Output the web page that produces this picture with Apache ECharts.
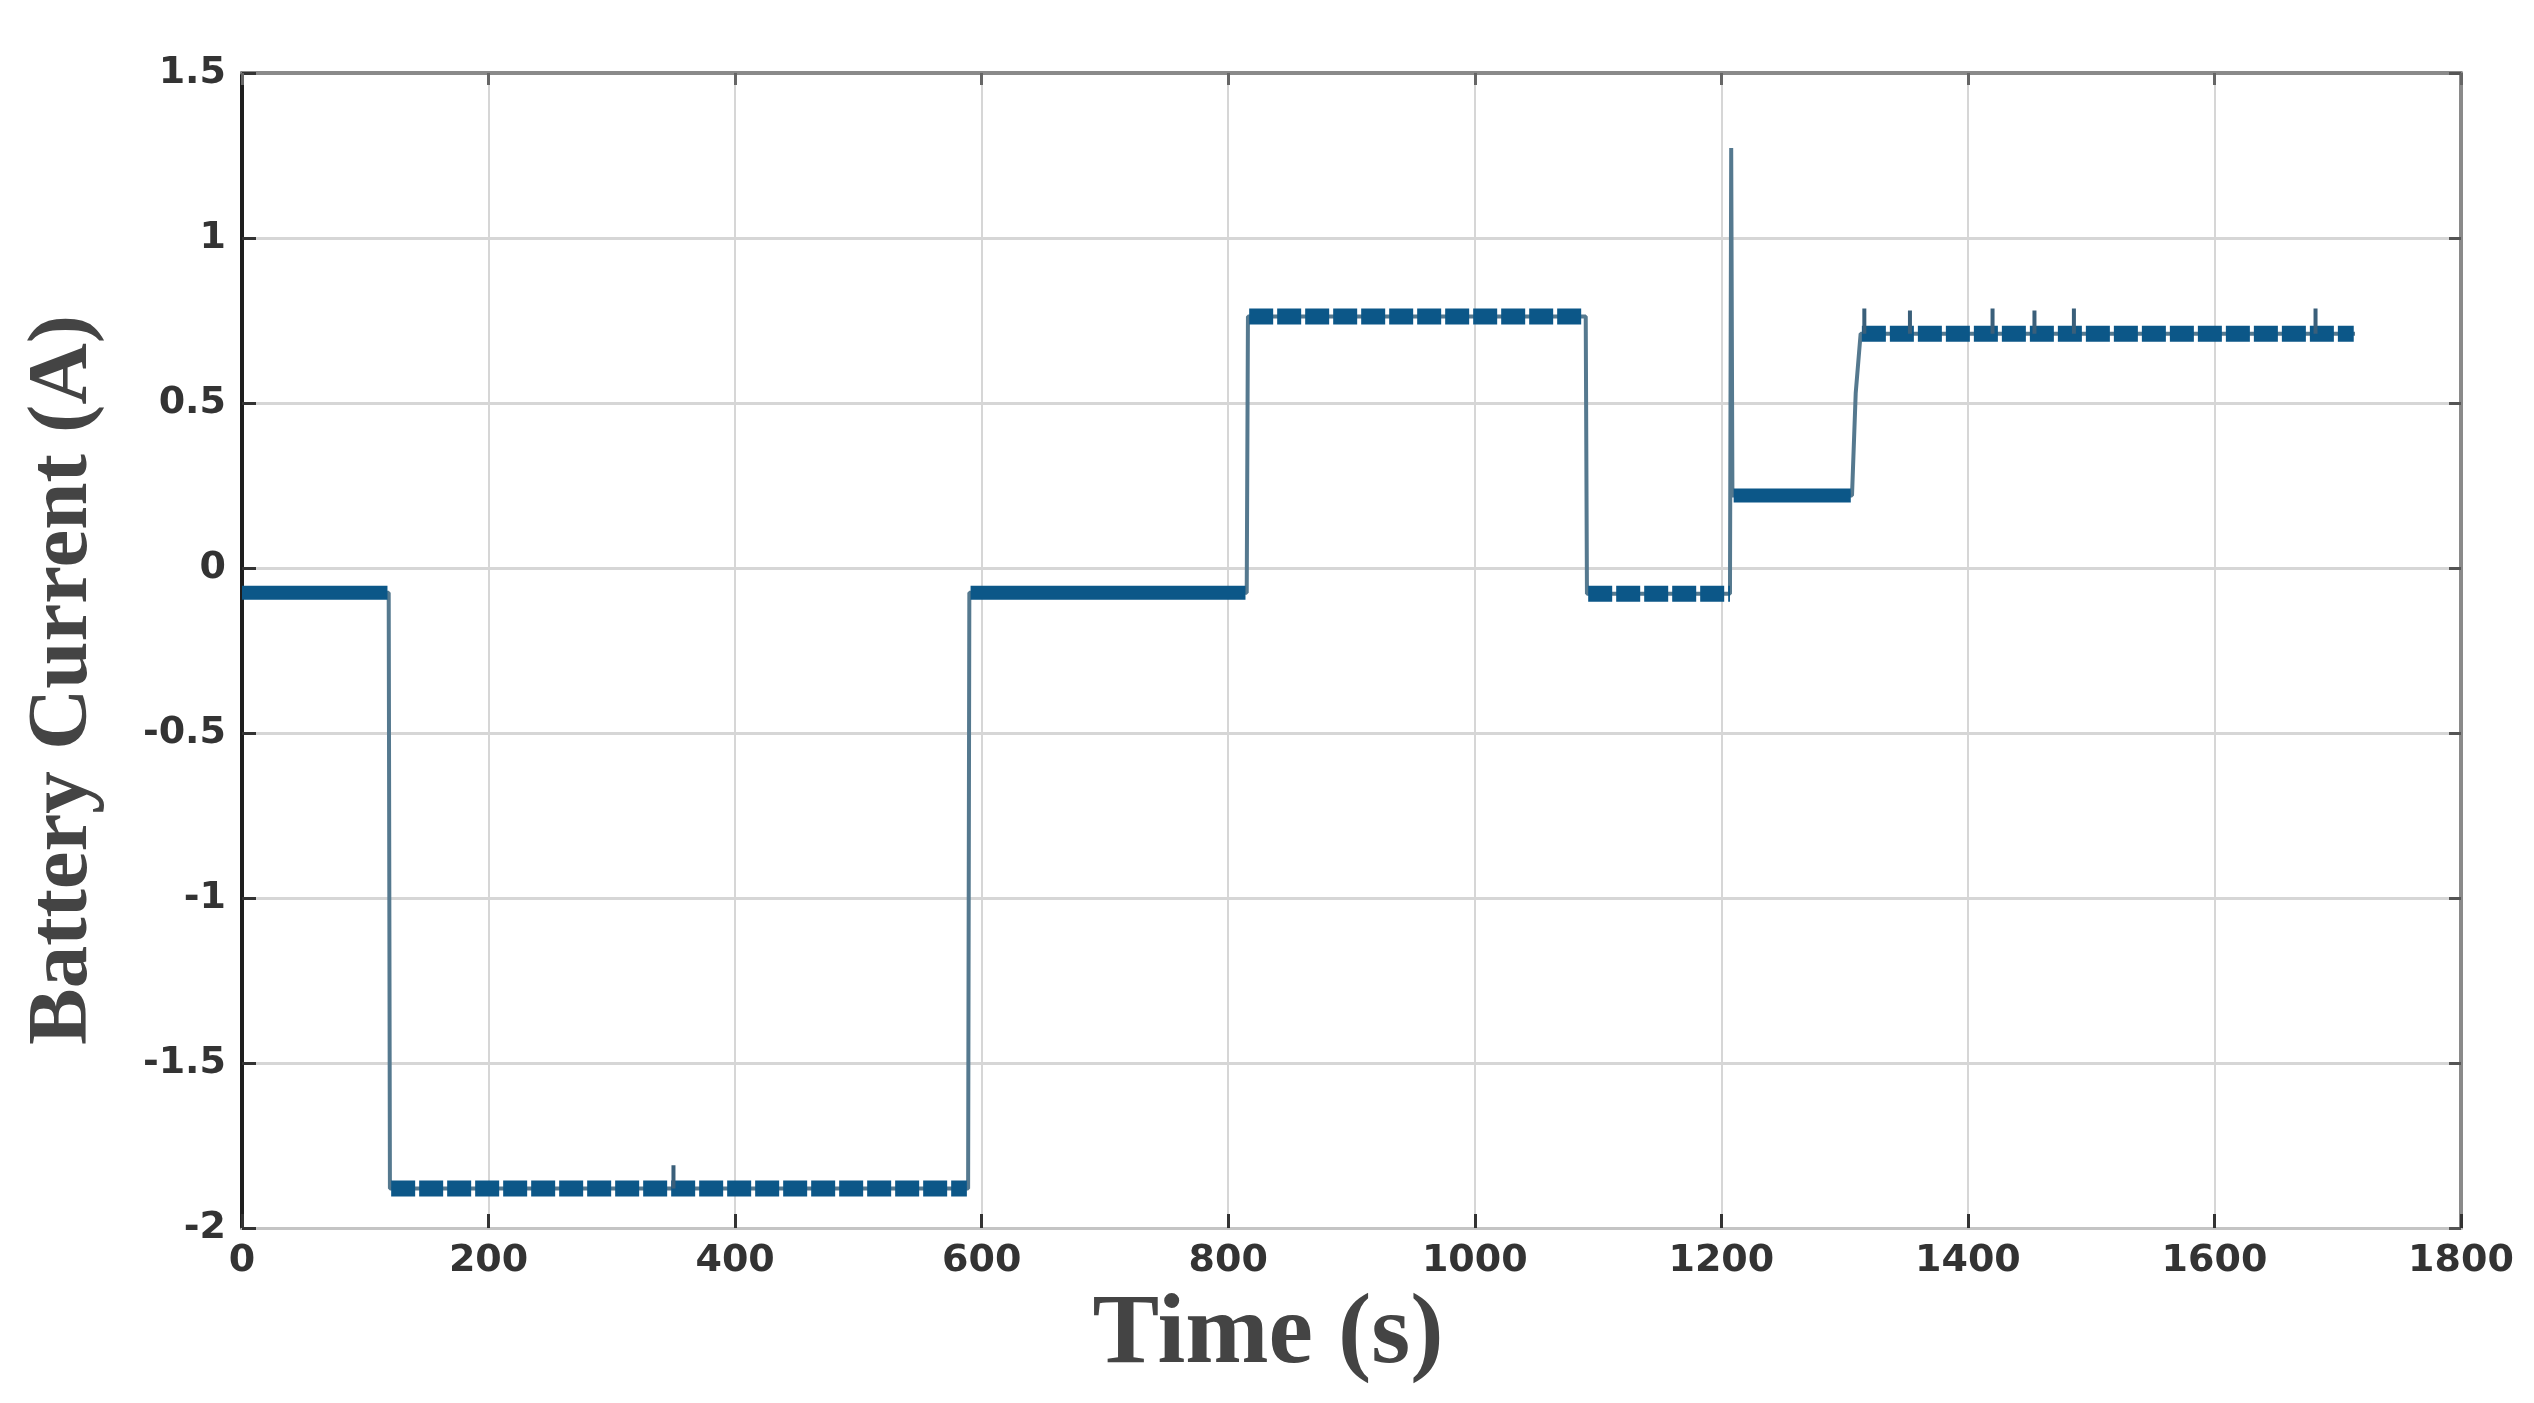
<!DOCTYPE html>
<html>
<head>
<meta charset="utf-8">
<title>Battery Current</title>
<script src="https://cdn.jsdelivr.net/npm/echarts@6/dist/echarts.min.js"></script>
<style>
  html, body { margin: 0; padding: 0; background: #fff; }
  #main { width: 2534px; height: 1403px; }
</style>
</head>
<body>
<div id="main"></div>
<script>
// step trace of the battery current (s, A)
var traceTime = [0, 119, 120, 589, 590, 815, 816, 1090, 1091, 1207, 1208, 1209, 1306, 1309, 1313, 1714];
var traceCurrent = [-0.075, -0.075, -1.88, -1.88, -0.075, -0.075, 0.762, 0.762, -0.078, -0.078, 1.273, 0.22, 0.22, 0.53, 0.71, 0.71];

// flat parts that look like a solid thick band
var solidStart = [0, 591, 1210];
var solidEnd = [118, 814, 1305];
var solidLevel = [-0.075, -0.075, 0.22];

// flat parts that look striped (noisy)
var stripedStart = [121, 817, 1092, 1314];
var stripedEnd = [588, 1088, 1207, 1713];
var stripedLevel = [-1.88, 0.762, -0.078, 0.71];

// single upward spikes sticking out of the bands
var spikeTime = [350, 1316, 1353, 1420, 1454, 1486, 1682];
var spikeBase = [-1.88, 0.71, 0.71, 0.71, 0.71, 0.71, 0.71];
var spikePeak = [-1.81, 0.786, 0.78, 0.786, 0.78, 0.786, 0.786];

var xTicks = [0, 200, 400, 600, 800, 1000, 1200, 1400, 1600, 1800];
var yTicks = [-2, -1.5, -1, -0.5, 0, 0.5, 1, 1.5];

function pairs(xs, ys) {
    var out = [];
    for (var i = 0; i < xs.length; i++) out.push([xs[i], ys[i]]);
    return out;
}

function segments(starts, ends, levels) {
    var out = [];
    for (var i = 0; i < starts.length; i++) {
        out.push([starts[i], levels[i]]);
        out.push([ends[i], levels[i]]);
        out.push([ends[i], '-']);
    }
    return out;
}

function spikes(ts, base, peak) {
    var out = [];
    for (var i = 0; i < ts.length; i++) {
        out.push([ts[i], base[i]]);
        out.push([ts[i], peak[i]]);
        out.push([ts[i], '-']);
    }
    return out;
}

var chart = echarts.init(document.getElementById('main'));

var tickFont = {
    fontFamily: 'DejaVu Sans',
    fontWeight: 'bold',
    fontSize: 38,
    color: '#333',
    formatter: function (v) { return String(v); }
};

var option = {
    animation: false,
    backgroundColor: '#fff',
    grid: {
        left: 242,
        top: 73,
        right: 73,
        bottom: 175,
        containLabel: false
    },
    xAxis: [{
        type: 'value',
        min: xTicks[0],
        max: xTicks[xTicks.length - 1],
        interval: 200,
        position: 'bottom',
        axisLine: { show: true, onZero: false, lineStyle: { color: '#c4c4c4', width: 3 } },
        axisTick: { show: true, inside: true, length: 14, lineStyle: { color: '#333', width: 3 } },
        axisLabel: Object.assign({ margin: 14 }, tickFont),
        splitLine: { show: true, lineStyle: { color: '#d6d6d6', width: 2 } }
    }, {
        type: 'value',
        min: xTicks[0],
        max: xTicks[xTicks.length - 1],
        interval: 200,
        position: 'top',
        axisLine: { show: true, onZero: false, lineStyle: { color: '#8a8a8a', width: 4 } },
        axisTick: { show: true, inside: true, length: 12, lineStyle: { color: '#666', width: 3 } },
        axisLabel: { show: false },
        splitLine: { show: false }
    }],
    yAxis: [{
        type: 'value',
        min: yTicks[0],
        max: yTicks[yTicks.length - 1],
        interval: 0.5,
        position: 'left',
        axisLine: { show: true, onZero: false, lineStyle: { color: '#1e1e1e', width: 4 } },
        axisTick: { show: true, inside: true, length: 14, lineStyle: { color: '#333', width: 3 } },
        axisLabel: Object.assign({ margin: 16 }, tickFont),
        splitLine: { show: true, lineStyle: { color: '#d6d6d6', width: 3 } }
    }, {
        type: 'value',
        min: yTicks[0],
        max: yTicks[yTicks.length - 1],
        interval: 0.5,
        position: 'right',
        axisLine: { show: true, onZero: false, lineStyle: { color: '#8a8a8a', width: 4 } },
        axisTick: { show: true, inside: true, length: 12, lineStyle: { color: '#555', width: 3 } },
        axisLabel: { show: false },
        splitLine: { show: false }
    }],
    series: [{
        name: 'trace',
        type: 'line',
        data: pairs(traceTime, traceCurrent),
        showSymbol: false,
        symbol: 'none',
        lineStyle: { color: '#55798f', width: 4 },
        z: 2
    }, {
        name: 'band solid',
        type: 'line',
        data: segments(solidStart, solidEnd, solidLevel),
        showSymbol: false,
        symbol: 'none',
        connectNulls: false,
        lineStyle: { color: '#0c5788', width: 14, cap: 'butt' },
        z: 3
    }, {
        name: 'band striped',
        type: 'line',
        data: segments(stripedStart, stripedEnd, stripedLevel),
        showSymbol: false,
        symbol: 'none',
        connectNulls: false,
        lineStyle: { color: '#0c5788', width: 16, type: [24, 4], cap: 'butt' },
        z: 3
    }, {
        name: 'spikes',
        type: 'line',
        data: spikes(spikeTime, spikeBase, spikePeak),
        showSymbol: false,
        symbol: 'none',
        connectNulls: false,
        lineStyle: { color: '#3a5f7a', width: 4 },
        z: 4
    }],
    graphic: [{
        type: 'text',
        x: 1268,
        y: 1336,
        style: {
            text: 'Time (s)',
            fontFamily: 'Liberation Serif',
            fontWeight: 'bold',
            fontSize: 100,
            fill: '#444',
            align: 'center',
            verticalAlign: 'middle'
        }
    }, {
        type: 'text',
        x: 64,
        y: 680,
        rotation: Math.PI / 2,
        style: {
            text: 'Battery Current (A)',
            fontFamily: 'Liberation Serif',
            fontWeight: 'bold',
            fontSize: 85,
            fill: '#444',
            align: 'center',
            verticalAlign: 'middle'
        }
    }]
};

chart.setOption(option);
</script>
</body>
</html>
